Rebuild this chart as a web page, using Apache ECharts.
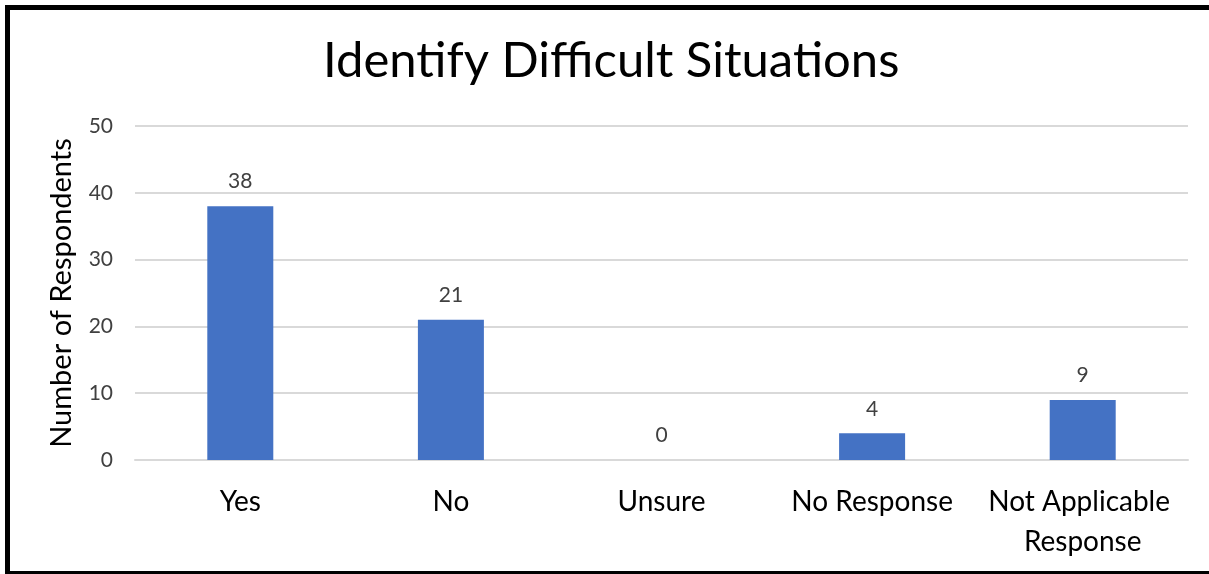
<!DOCTYPE html>
<html>
<head>
<meta charset="utf-8">
<script src="https://cdn.jsdelivr.net/npm/echarts@6/dist/echarts.min.js"></script>
<style>
  html, body { margin: 0; padding: 0; background: #fff; overflow: hidden; }
  #frame {
    position: absolute; left: 5px; top: 5px; width: 1260px; height: 561px;
    border-left: 5px solid #000; border-top: 5px solid #000; border-bottom: 3px solid #000;
  }
  #chart { position: absolute; left: 0; top: 0; width: 1209px; height: 574px; }
</style>
</head>
<body>
<div id="frame"></div>
<div id="chart"></div>
<script>
  /******************/
  //region    //data

  let categories = ['Yes', 'No', 'Unsure', 'No Response', 'Not Applicable Response'];
  let respondents = [38, 21, 0, 4, 9];
  let yTicks = [0, 10, 20, 30, 40, 50];

  //endregion

  /******************/
  //region    //chart

  let echart = echarts.init(document.getElementById('chart'));

  let option = {
    color: ['#4472C4'],
    title: {
      text: 'Identify Difficult Situations',
      left: 318,
      top: 32,
      textStyle: {
        fontFamily: 'Lato',
        fontWeight: 'normal',
        fontSize: 49,
        color: '#000'
      }
    },
    grid: {
      left: 135,
      right: 21,
      top: 126,
      bottom: 114
    },
    xAxis: {
      type: 'category',
      data: categories,
      axisTick: { show: false },
      axisLine: { lineStyle: { color: '#d9d9d9', width: 2 } },
      axisLabel: {
        color: '#000',
        fontFamily: 'Lato',
        fontSize: 28,
        margin: 22,
        lineHeight: 40,
        width: 215,
        overflow: 'break',
        interval: 0
      }
    },
    yAxis: {
      type: 'value',
      min: yTicks[0],
      max: yTicks[yTicks.length - 1],
      interval: 10,
      name: 'Number of Respondents',
      nameLocation: 'middle',
      nameGap: 59,
      nameTextStyle: {
        fontFamily: 'Lato',
        fontSize: 29,
        color: '#000'
      },
      axisLabel: {
        color: '#404040',
        fontFamily: 'Lato',
        fontSize: 21,
        margin: 22
      },
      axisLine: { show: false },
      splitLine: { lineStyle: { color: '#d9d9d9', width: 2 } }
    },
    series: [
      {
        type: 'bar',
        data: respondents,
        barWidth: 66,
        label: {
          show: true,
          position: 'top',
          distance: 14,
          color: '#404040',
          fontFamily: 'Lato',
          fontSize: 21
        }
      }
    ]
  };

  echart.setOption(option);

  //endregion
</script>
</body>
</html>
